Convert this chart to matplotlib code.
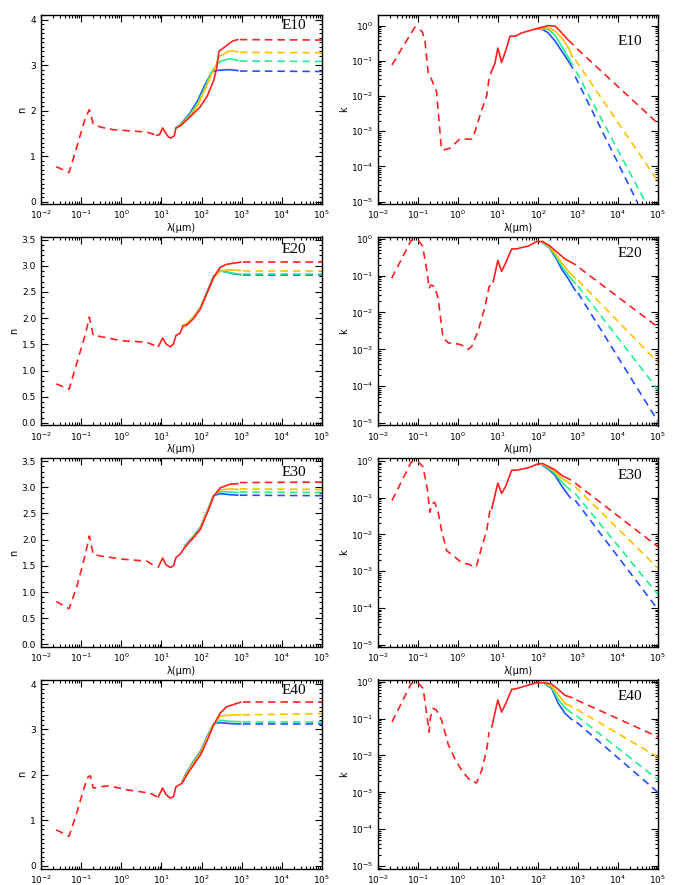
import matplotlib
matplotlib.use('Agg')
import matplotlib.pyplot as plt
from matplotlib.ticker import MultipleLocator, LogLocator, NullFormatter, FormatStrFormatter

# each segment: (wavelength in micron, value)
# a = dashed short-wavelength part, b = solid, c = dashed extrapolation

#### E10, n
n10_red_a = ([0.024, 0.05, 0.078, 0.1, 0.13, 0.16, 0.2, 0.3, 0.64, 2.0, 4.3, 7.7],
             [0.77, 0.64, 1.2, 1.53, 1.86, 2.02, 1.71, 1.64, 1.58, 1.55, 1.53, 1.46])
n10_red_b = ([7.7, 9, 10.7, 12.5, 15, 17.5, 21, 23, 30, 50, 92, 140, 200, 240, 270, 330, 450, 600, 800],
             [1.46, 1.47, 1.62, 1.52, 1.42, 1.40, 1.45, 1.62, 1.67, 1.85, 2.08, 2.33, 2.66, 2.95, 3.3, 3.36, 3.45, 3.53, 3.56])
n10_red_c = ([900, 1e5], [3.56, 3.55])
n10_org_b = ([23, 30, 50, 80, 120, 180, 230, 270, 330, 450, 600, 800],
             [1.62, 1.68, 1.87, 2.12, 2.45, 2.82, 3.0, 3.2, 3.22, 3.3, 3.31, 3.29])
n10_org_c = ([900, 1e5], [3.28, 3.27])
n10_grn_b = ([23, 30, 50, 80, 120, 180, 230, 290, 400, 520, 800],
             [1.62, 1.69, 1.9, 2.16, 2.5, 2.86, 3.0, 3.08, 3.12, 3.14, 3.1])
n10_grn_c = ([900, 1e5], [3.09, 3.08])
n10_blu_b = ([23, 30, 50, 80, 120, 180, 230, 300, 500, 800],
             [1.62, 1.7, 1.93, 2.22, 2.56, 2.85, 2.88, 2.89, 2.9, 2.88])
n10_blu_c = ([900, 1e5], [2.87, 2.86])

#### E10, k
k10_red_a = ([0.0224, 0.038, 0.083, 0.126, 0.148, 0.18, 0.22, 0.29, 0.38, 0.42, 0.63, 1.1, 2.2, 2.6, 3.9, 5.2, 6.0, 6.9],
             [0.076, 0.21, 0.9, 0.69, 0.4, 0.045, 0.029, 0.0135, 3.7e-4, 2.9e-4, 3.3e-4, 6e-4, 6e-4, 9e-4, 4e-3, 0.01, 0.032, 0.05])
k10_red_b = ([6.9, 8.4, 9.9, 12.3, 15, 20, 27, 39, 85, 180, 270, 360, 580, 750],
             [0.05, 0.087, 0.23, 0.09, 0.17, 0.5, 0.5, 0.62, 0.8, 1.0, 0.96, 0.69, 0.38, 0.29])
k10_red_c = ([950, 1e5], [0.22, 1.65e-3])
k10_org_b = ([85, 180, 270, 390, 580, 730], [0.8, 0.88, 0.69, 0.45, 0.23, 0.13])
k10_org_c = ([850, 1e5], [0.108, 3.8e-5])
k10_grn_b = ([85, 180, 270, 390, 580, 730], [0.8, 0.8, 0.52, 0.26, 0.12, 0.078])
k10_grn_c = ([900, 4.8e4], [0.05, 1e-5])
k10_blu_b = ([85, 130, 180, 270, 390, 580, 730], [0.8, 0.78, 0.62, 0.36, 0.19, 0.097, 0.063])
k10_blu_c = ([850, 3e4], [0.036, 1e-5])

#### E20, n
n20_red_a = ([0.024, 0.05, 0.077, 0.125, 0.16, 0.2, 0.3, 1, 4.3, 7.7],
             [0.745, 0.64, 1.13, 1.67, 2.02, 1.67, 1.65, 1.57, 1.54, 1.46])
n20_red_b = ([8.4, 10.7, 13, 16.5, 20, 23, 29, 34, 43, 63, 94, 140, 200, 290, 420, 940],
             [1.46, 1.62, 1.51, 1.45, 1.51, 1.67, 1.71, 1.84, 1.87, 1.99, 2.18, 2.5, 2.78, 2.97, 3.03, 3.07])
n20_red_c = ([1050, 1e5], [3.07, 3.07])
n20_org_b = ([34, 43, 63, 94, 140, 200, 290, 420, 600, 940],
             [1.86, 1.9, 2.02, 2.2, 2.5, 2.78, 2.9, 2.92, 2.92, 2.91])
n20_org_c = ([1050, 1e5], [2.91, 2.91])
n20_grn_b = ([34, 43, 63, 94, 140, 200, 290, 420, 600, 940],
             [1.86, 1.89, 2.02, 2.21, 2.51, 2.79, 2.9, 2.88, 2.86, 2.84])
n20_grn_c = ([1050, 1e5], [2.84, 2.84])
n20_blu_b = ([34, 43, 63, 94, 140, 200, 290, 420, 600, 940],
             [1.86, 1.89, 2.02, 2.21, 2.52, 2.8, 2.91, 2.88, 2.85, 2.83])
n20_blu_c = ([1050, 1e5], [2.83, 2.83])

#### E20, k
k20_red_a = ([0.022, 0.038, 0.068, 0.1, 0.13, 0.16, 0.19, 0.21, 0.26, 0.32, 0.42, 0.57, 1.0, 1.35, 1.8, 2.2, 3.2, 4.7, 6.0, 7.0],
             [0.085, 0.27, 0.92, 0.92, 0.63, 0.18, 0.045, 0.056, 0.05, 0.024, 2.1e-3, 1.5e-3, 1.4e-3, 1.25e-3, 1e-3, 1.2e-3, 3.2e-3, 0.014, 0.05, 0.06])
k20_red_b = ([7.6, 9.9, 12.3, 15.5, 22, 29, 40, 57, 94, 130, 190, 280, 480, 850],
             [0.068, 0.26, 0.13, 0.22, 0.53, 0.53, 0.58, 0.63, 0.84, 0.84, 0.66, 0.46, 0.28, 0.2])
k20_red_c = ([1100, 1e5], [0.16, 4e-3])
k20_org_b = ([130, 190, 280, 390, 580, 850], [0.82, 0.62, 0.37, 0.22, 0.13, 0.085])
k20_org_c = ([1000, 1e5], [0.075, 4.4e-4])
k20_grn_b = ([130, 190, 280, 390, 580, 850], [0.8, 0.6, 0.33, 0.18, 0.1, 0.062])
k20_grn_c = ([1000, 1e5], [0.052, 8e-5])
k20_blu_b = ([130, 190, 280, 390, 580, 850], [0.78, 0.58, 0.3, 0.15, 0.08, 0.04])
k20_blu_c = ([1000, 1e5], [0.034, 1.1e-5])

#### E30, n
n30_red_a = ([0.024, 0.05, 0.077, 0.125, 0.16, 0.2, 0.3, 1, 4.3, 7.7],
             [0.82, 0.68, 1.09, 1.69, 2.07, 1.72, 1.69, 1.63, 1.59, 1.47])
n30_red_b = ([8.4, 10.7, 13, 16.5, 20, 23, 29, 38, 63, 94, 140, 200, 290, 510, 800],
             [1.48, 1.65, 1.52, 1.47, 1.5, 1.66, 1.72, 1.85, 2.04, 2.2, 2.52, 2.83, 2.99, 3.06, 3.07])
n30_red_c = ([900, 1e5], [3.09, 3.1])
n30_org_b = ([38, 63, 94, 140, 200, 290, 510, 800], [1.86, 2.05, 2.22, 2.54, 2.84, 2.95, 2.97, 2.96])
n30_org_c = ([900, 1e5], [2.97, 2.96])
n30_grn_b = ([38, 63, 94, 140, 200, 290, 510, 800], [1.87, 2.06, 2.23, 2.55, 2.85, 2.92, 2.91, 2.9])
n30_grn_c = ([900, 1e5], [2.91, 2.9])
n30_blu_b = ([38, 63, 94, 140, 200, 290, 510, 800], [1.88, 2.07, 2.24, 2.56, 2.84, 2.88, 2.86, 2.85])
n30_blu_c = ([900, 1e5], [2.85, 2.84])

#### E30, k
k30_red_a = ([0.0224, 0.068, 0.1, 0.134, 0.173, 0.197, 0.225, 0.26, 0.32, 0.39, 0.52, 0.84, 1.23, 2.0, 2.4, 2.9, 3.9, 5.2, 6.3],
             [0.084, 0.94, 0.97, 0.68, 0.16, 0.04, 0.068, 0.075, 0.04, 0.0126, 3.6e-3, 2.4e-3, 1.7e-3, 1.5e-3, 1.27e-3, 1.4e-3, 4.4e-3, 0.0126, 0.045])
k30_red_b = ([7, 9.9, 12.3, 15.5, 22, 29, 40, 57, 94, 130, 180, 260, 400, 640],
             [0.05, 0.25, 0.13, 0.2, 0.56, 0.56, 0.6, 0.65, 0.81, 0.85, 0.71, 0.58, 0.4, 0.31])
k30_red_c = ([850, 1e5], [0.25, 4.6e-3])
k30_org_b = ([130, 180, 260, 400, 640], [0.82, 0.68, 0.52, 0.33, 0.24])
k30_org_c = ([850, 1e5], [0.2, 1.2e-3])
k30_grn_b = ([130, 180, 260, 400, 640], [0.78, 0.64, 0.46, 0.26, 0.16])
k30_grn_c = ([850, 1e5], [0.13, 2.3e-4])
k30_blu_b = ([130, 180, 260, 400, 640], [0.75, 0.6, 0.42, 0.2, 0.1])
k30_blu_c = ([850, 1e5], [0.085, 9e-5])

#### E40, n
n40_red_a = ([0.024, 0.05, 0.077, 0.125, 0.15, 0.17, 0.2, 0.3, 0.5, 1.4, 5.2, 7.7],
             [0.79, 0.65, 1.15, 1.78, 1.96, 1.98, 1.71, 1.74, 1.76, 1.67, 1.6, 1.52])
n40_red_b = ([8.4, 10.7, 13, 16.5, 20, 23, 33, 43, 63, 94, 140, 200, 290, 420, 940],
             [1.52, 1.71, 1.57, 1.49, 1.52, 1.74, 1.82, 2.0, 2.22, 2.44, 2.77, 3.1, 3.36, 3.5, 3.6])
n40_red_c = ([1050, 1e5], [3.6, 3.6])
n40_org_b = ([33, 43, 63, 94, 140, 200, 290, 520, 940], [1.84, 2.03, 2.26, 2.48, 2.82, 3.12, 3.29, 3.32, 3.32])
n40_org_c = ([1050, 1e5], [3.32, 3.35])
n40_grn_b = ([33, 43, 63, 94, 140, 200, 290, 520, 940], [1.85, 2.05, 2.28, 2.5, 2.84, 3.12, 3.2, 3.18, 3.17])
n40_grn_c = ([1050, 1e5], [3.17, 3.17])
n40_blu_b = ([33, 43, 63, 94, 140, 200, 290, 520, 940], [1.86, 2.06, 2.3, 2.52, 2.86, 3.13, 3.15, 3.13, 3.12])
n40_blu_c = ([1050, 1e5], [3.12, 3.12])

#### E40, k
k40_red_a = ([0.0224, 0.068, 0.1, 0.134, 0.16, 0.19, 0.205, 0.24, 0.29, 0.39, 0.57, 0.84, 1.23, 2.0, 2.9, 3.9, 5.2, 6.0],
             [0.081, 0.9, 0.94, 0.66, 0.17, 0.043, 0.11, 0.19, 0.17, 0.09, 0.02, 8e-3, 4e-3, 2.1e-3, 1.8e-3, 3.9e-3, 0.014, 0.043])
k40_red_b = ([7, 9.9, 12.3, 15.5, 22, 29, 57, 94, 150, 220, 320, 470, 700],
             [0.06, 0.32, 0.15, 0.25, 0.62, 0.65, 0.81, 0.94, 0.94, 0.86, 0.62, 0.43, 0.37])
k40_red_c = ([920, 1e5], [0.32, 0.032])
k40_org_b = ([150, 220, 320, 470, 700], [0.9, 0.75, 0.45, 0.26, 0.21])
k40_org_c = ([920, 1e5], [0.18, 9e-3])
k40_grn_b = ([150, 220, 320, 470, 700], [0.88, 0.7, 0.33, 0.2, 0.14])
k40_grn_c = ([920, 1e5], [0.12, 2.2e-3])
k40_blu_b = ([150, 220, 320, 470, 700], [0.86, 0.66, 0.26, 0.14, 0.094])
k40_blu_c = ([920, 1e5], [0.08, 1e-3])

labels = ['E10', 'E20', 'E30', 'E40']

red = '#ff2020'
org = '#ffc000'
grn = '#20f090'
blu = '#2050ff'
dash = (4.5, 3.0)
lw = 1.2


def draw(ax, red_a, red_b, red_c, others):
    for col, b, c in others:
        ax.plot(b[0], b[1], color=col, lw=lw)
        ax.plot(c[0], c[1], color=col, lw=lw, dashes=dash)
    ax.plot(red_a[0], red_a[1], color=red, lw=lw, dashes=dash)
    ax.plot(red_b[0], red_b[1], color=red, lw=lw)
    ax.plot(red_c[0], red_c[1], color=red, lw=lw, dashes=dash)


def style(ax):
    ax.set_xscale('log')
    ax.set_xlim(1e-2, 1e5)
    ax.xaxis.set_major_locator(LogLocator(base=10, numticks=20))
    ax.xaxis.set_minor_locator(LogLocator(base=10, subs=range(2, 10), numticks=20))
    ax.xaxis.set_minor_formatter(NullFormatter())
    ax.tick_params(which='both', direction='in', top=True, right=True, labelsize=6.5, width=0.8)
    ax.tick_params(which='major', length=5)
    ax.tick_params(which='minor', length=2.5)
    ax.set_xlabel('λ(μm)', fontsize=7, labelpad=1)
    for s in ax.spines.values():
        s.set_linewidth(1.0)


plt.rcParams['font.family'] = ['DejaVu Sans']
fig = plt.figure(figsize=(6.73, 8.85), dpi=100)
W, H = 673., 885.

n_panels = [
    (n10_red_a, n10_red_b, n10_red_c, [(blu, n10_blu_b, n10_blu_c), (grn, n10_grn_b, n10_grn_c), (org, n10_org_b, n10_org_c)]),
    (n20_red_a, n20_red_b, n20_red_c, [(blu, n20_blu_b, n20_blu_c), (grn, n20_grn_b, n20_grn_c), (org, n20_org_b, n20_org_c)]),
    (n30_red_a, n30_red_b, n30_red_c, [(blu, n30_blu_b, n30_blu_c), (grn, n30_grn_b, n30_grn_c), (org, n30_org_b, n30_org_c)]),
    (n40_red_a, n40_red_b, n40_red_c, [(blu, n40_blu_b, n40_blu_c), (grn, n40_grn_b, n40_grn_c), (org, n40_org_b, n40_org_c)]),
]
k_panels = [
    (k10_red_a, k10_red_b, k10_red_c, [(blu, k10_blu_b, k10_blu_c), (grn, k10_grn_b, k10_grn_c), (org, k10_org_b, k10_org_c)]),
    (k20_red_a, k20_red_b, k20_red_c, [(blu, k20_blu_b, k20_blu_c), (grn, k20_grn_b, k20_grn_c), (org, k20_org_b, k20_org_c)]),
    (k30_red_a, k30_red_b, k30_red_c, [(blu, k30_blu_b, k30_blu_c), (grn, k30_grn_b, k30_grn_c), (org, k30_org_b, k30_org_c)]),
    (k40_red_a, k40_red_b, k40_red_c, [(blu, k40_blu_b, k40_blu_c), (grn, k40_grn_b, k40_grn_c), (org, k40_org_b, k40_org_c)]),
]
n_ylims = [(-0.05, 4.1), (-0.05, 3.56), (-0.05, 3.56), (-0.06, 4.1)]
n_major = [1, 0.5, 0.5, 1]
k_ytop = [2.0, 1.15, 1.2, 1.15]
lab_y_n = [0.945, 0.93, 0.925, 0.94]
lab_y_k = [0.86, 0.91, 0.905, 0.91]

for i in range(4):
    top = 15 + 221.5 * i
    y0 = 1 - (top + 189) / H
    h = 189 / H

    # refractive index n
    ax = fig.add_axes([41 / W, y0, 281 / W, h])
    draw(ax, *n_panels[i])
    style(ax)
    ax.set_ylim(*n_ylims[i])
    ax.yaxis.set_major_locator(MultipleLocator(n_major[i]))
    ax.yaxis.set_minor_locator(MultipleLocator(0.1))
    if n_major[i] == 0.5:
        ax.yaxis.set_major_formatter(FormatStrFormatter('%.1f'))
    ax.set_ylabel('n', fontsize=7, labelpad=2)
    ax.text(0.9, lab_y_n[i], labels[i], transform=ax.transAxes, ha='center', va='center',
            fontsize=11, family='Liberation Serif')

    # extinction k
    ax = fig.add_axes([378 / W, y0, 280 / W, h])
    draw(ax, *k_panels[i])
    style(ax)
    ax.set_yscale('log')
    ax.set_ylim(0.86e-5, k_ytop[i])
    ax.yaxis.set_major_locator(LogLocator(base=10, numticks=10))
    ax.yaxis.set_minor_locator(LogLocator(base=10, subs=range(2, 10), numticks=10))
    ax.yaxis.set_minor_formatter(NullFormatter())
    ax.set_ylabel('k', fontsize=7, labelpad=1)
    ax.text(0.9, lab_y_k[i], labels[i], transform=ax.transAxes, ha='center', va='center',
            fontsize=11, family='Liberation Serif')

fig.savefig('out.png', dpi=100)
